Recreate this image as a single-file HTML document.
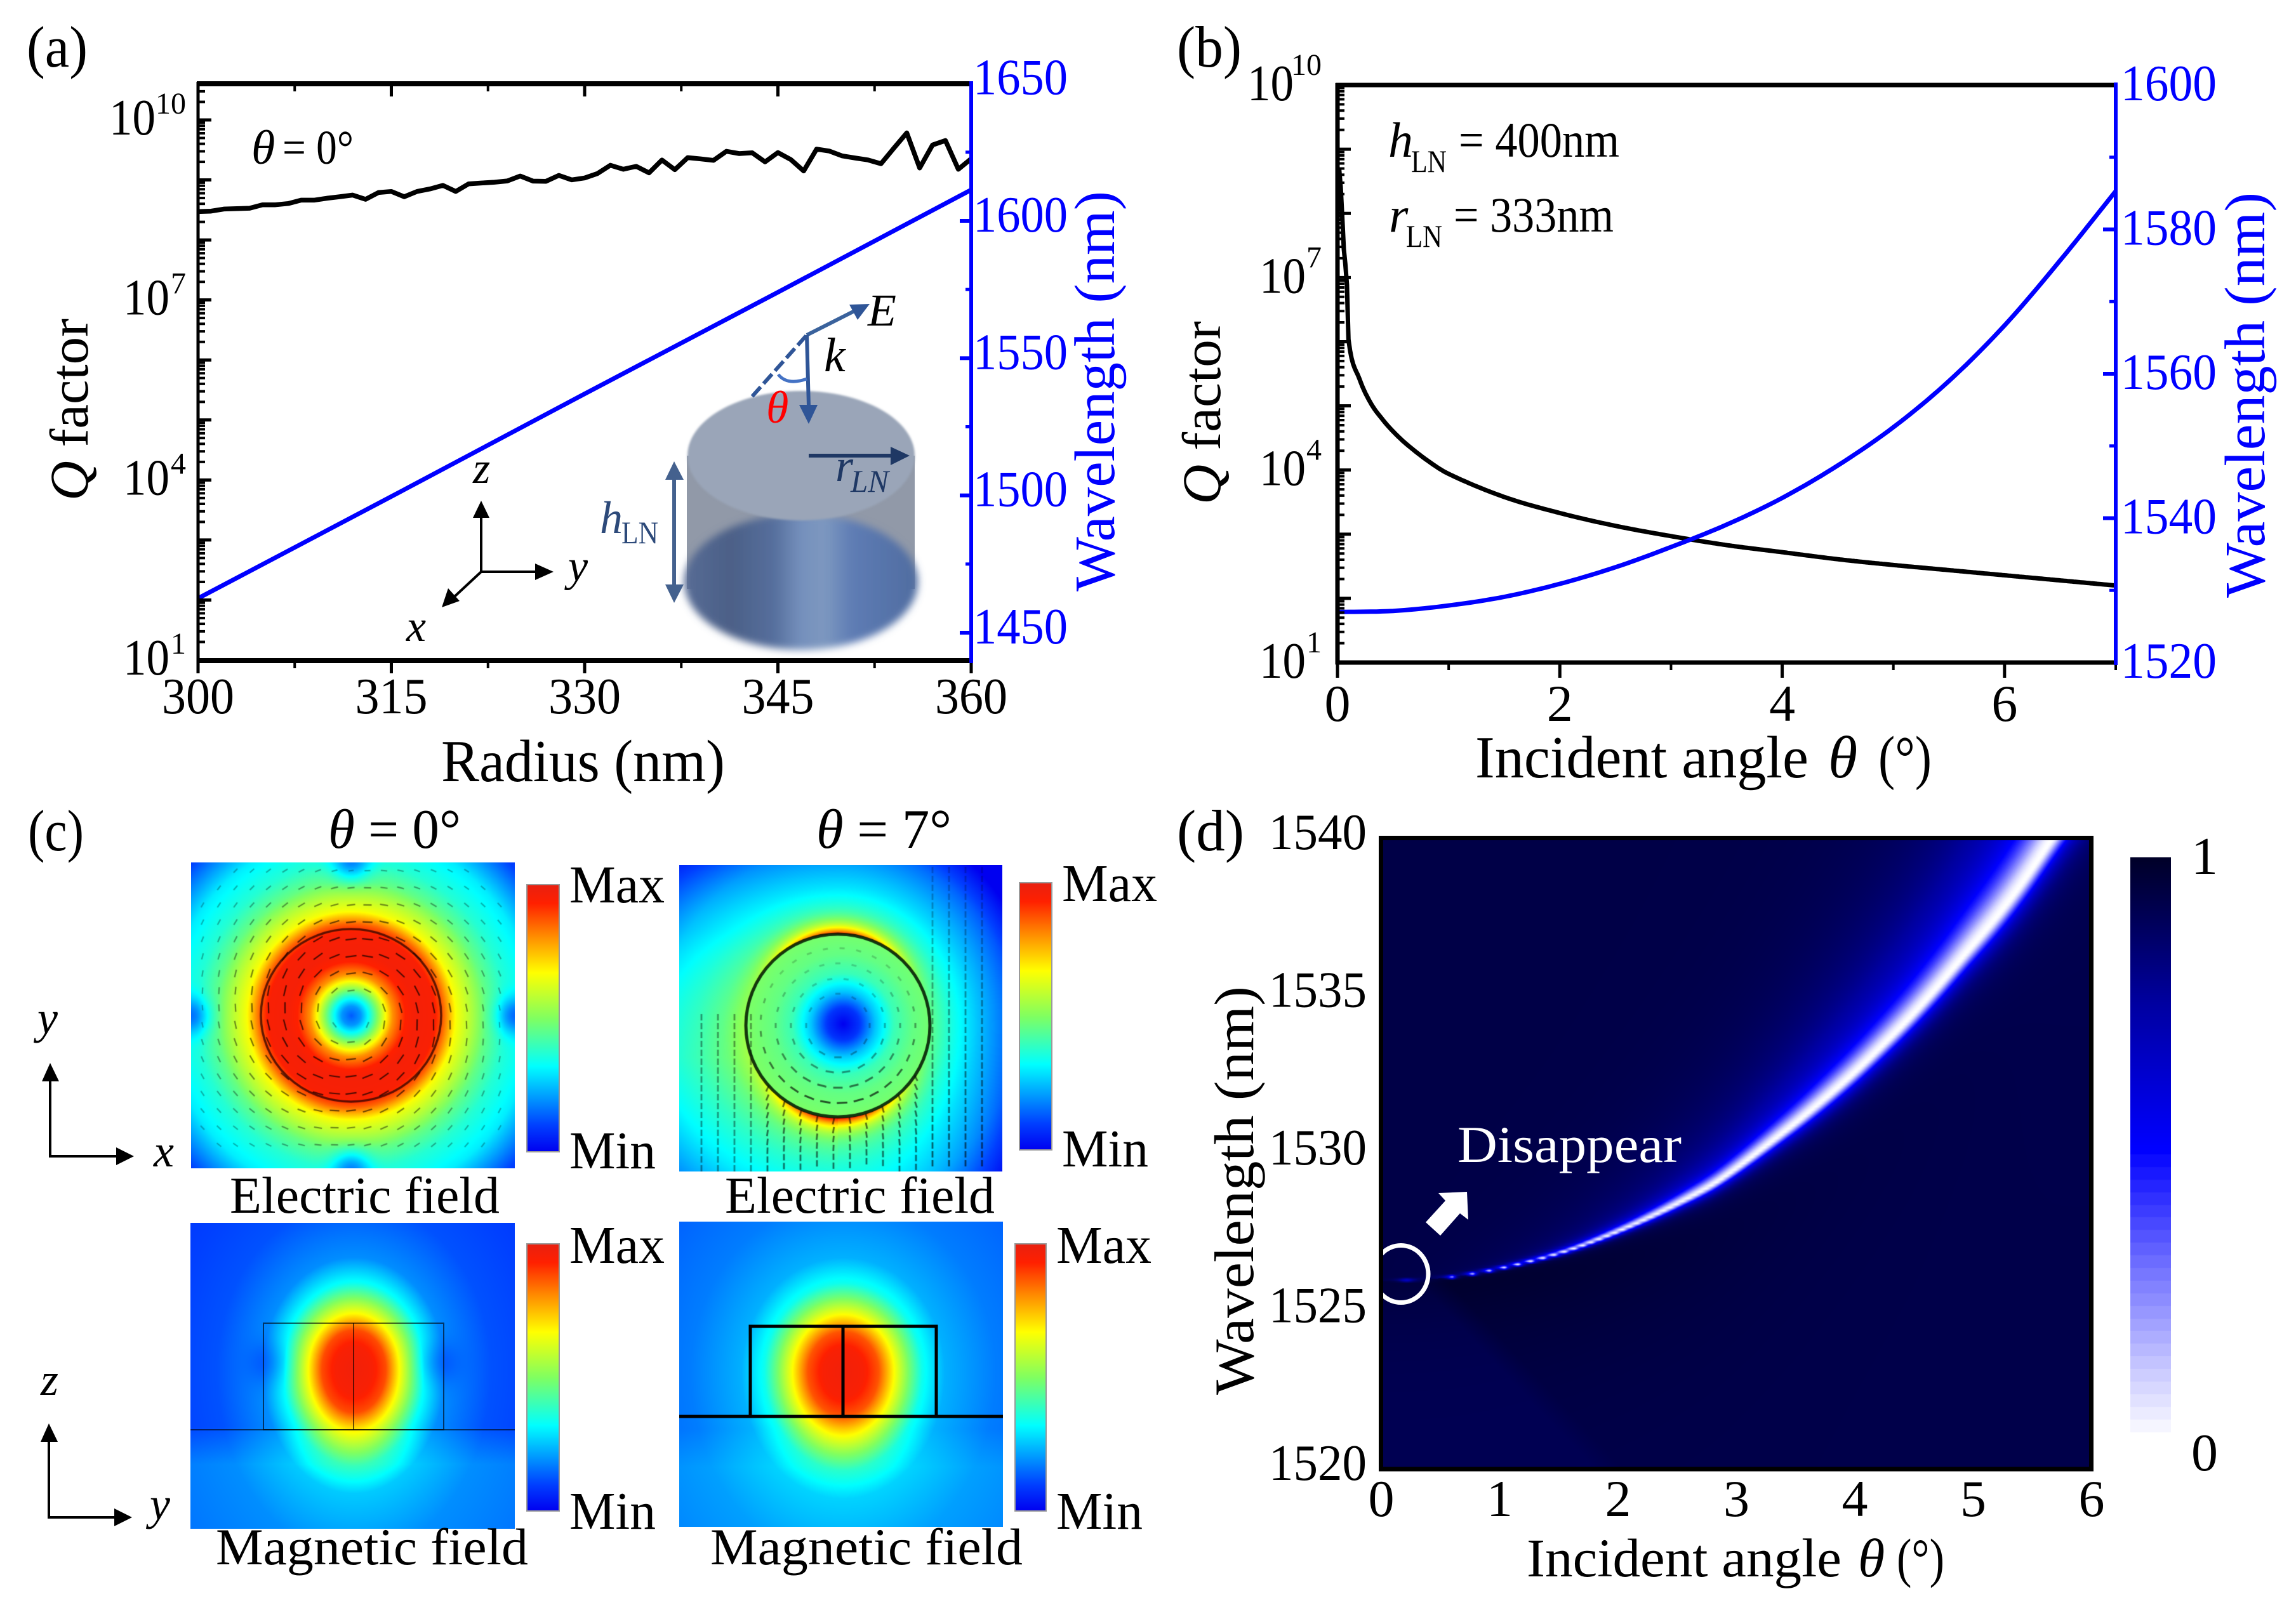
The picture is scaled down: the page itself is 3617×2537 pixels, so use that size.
<!DOCTYPE html>
<html lang="en">
<head>
<meta charset="utf-8">
<title>Q factor and field figure</title>
<style>
html,body{margin:0;padding:0;background:#fff;}
#stage{position:relative;width:3617px;height:2537px;overflow:hidden;background:#fff;}
canvas{position:absolute;display:block;}
svg#fig{position:absolute;left:0;top:0;font-family:"Liberation Serif",serif;}
</style>
</head>
<body>
<div id="stage">
<canvas id="cE0" width="510" height="482" style="left:301px;top:1359px"></canvas>
<canvas id="cE7" width="509" height="483" style="left:1070px;top:1363px"></canvas>
<canvas id="cH0" width="511" height="482" style="left:300px;top:1927px"></canvas>
<canvas id="cH7" width="510" height="481" style="left:1070px;top:1925px"></canvas>
<canvas id="cD" width="1118" height="994" style="left:2176px;top:1321px"></canvas>
<canvas id="cDbar" width="64" height="915" style="left:3356px;top:1351px"></canvas>

<svg id="fig" width="3617" height="2537" viewBox="0 0 3617 2537" xmlns="http://www.w3.org/2000/svg">
<defs>
<linearGradient id="jetV" x1="0" y1="1" x2="0" y2="0">
<stop offset="0" stop-color="#0000f0"/><stop offset=".1" stop-color="#0040ff"/><stop offset=".32" stop-color="#00ffff"/><stop offset=".5" stop-color="#80ff60"/><stop offset=".67" stop-color="#ffff00"/><stop offset=".82" stop-color="#ff8000"/><stop offset=".93" stop-color="#ff2000"/><stop offset="1" stop-color="#e82010"/>
</linearGradient>
<linearGradient id="cylBase" x1="0" y1="0" x2="1" y2="0">
<stop offset="0" stop-color="#566b95"/><stop offset=".2" stop-color="#4c6087"/><stop offset=".38" stop-color="#556e9c"/><stop offset=".5" stop-color="#7590bc"/><stop offset=".6" stop-color="#7d98c0"/><stop offset=".72" stop-color="#5e7cb4"/><stop offset="1" stop-color="#4f6ca0"/>
</linearGradient>
<filter id="blurBig" x="-10%" y="-10%" width="120%" height="120%"><feGaussianBlur stdDeviation="6"/></filter>
<filter id="blurSmall" x="-5%" y="-5%" width="110%" height="110%"><feGaussianBlur stdDeviation="1.5"/></filter>
</defs>

<!-- panel a labels -->
<g>
<text x="42" y="105" font-size="92" textLength="96" lengthAdjust="spacingAndGlyphs">(a)</text>
<g id="axA"></g>
<text x="695" y="1231" font-size="94" textLength="447" lengthAdjust="spacingAndGlyphs">Radius (nm)</text>
<text transform="translate(138,789) rotate(-90)" font-size="86" textLength="287" lengthAdjust="spacingAndGlyphs"><tspan font-style="italic">Q</tspan> factor</text>
<text transform="translate(1755,932) rotate(-90)" font-size="90" fill="#0000ff" textLength="631" lengthAdjust="spacingAndGlyphs">Wavelength (nm)</text>
<text x="396" y="258" font-size="76" font-style="italic">θ</text>
<text x="445" y="258" font-size="76" textLength="112" lengthAdjust="spacingAndGlyphs">= 0°</text>

<g>
<rect x="1082" y="718" width="359" height="210" fill="#9199a8"/>
<ellipse cx="1262" cy="917" rx="184" ry="107" fill="url(#cylBase)" filter="url(#blurBig)"/>
<ellipse cx="1262" cy="718" rx="179" ry="102" fill="#9aa5b8" filter="url(#blurSmall)"/>
<line x1="1271" y1="528" x2="1350" y2="488" stroke="#3a629c" stroke-width="6"/>
<polygon points="1370,479 1338,480 1351,504" fill="#2f5597"/>
<line x1="1271" y1="528" x2="1274" y2="640" stroke="#2f5597" stroke-width="6"/>
<polygon points="1259,638 1288,638 1274,668" fill="#2f5597"/>
<line x1="1270" y1="529" x2="1182" y2="628" stroke="#2f5597" stroke-width="6" stroke-dasharray="20 7"/>
<path d="M1226,590 Q1240,608 1271,597" fill="none" stroke="#4472c4" stroke-width="5"/>
<text x="1207" y="666" font-size="72" font-style="italic" fill="#ff0000">θ</text>
<text x="1367" y="513" font-size="72" font-style="italic" textLength="45" lengthAdjust="spacingAndGlyphs">E</text>
<text x="1298" y="585" font-size="76" font-style="italic">k</text>
<line x1="1274" y1="718" x2="1405" y2="718" stroke="#1f3864" stroke-width="6"/>
<polygon points="1403,704 1403,733 1433,718" fill="#1f3864"/>
<text x="1316" y="758" font-size="72" font-style="italic" fill="#1f3864">r</text>
<text x="1340" y="775" font-size="50" font-style="italic" fill="#1f3864" textLength="60" lengthAdjust="spacingAndGlyphs">LN</text>
<line x1="1062" y1="750" x2="1062" y2="925" stroke="#44618e" stroke-width="6"/>
<polygon points="1048,756 1077,756 1062,727" fill="#44618e"/>
<polygon points="1048,921 1077,921 1062,950" fill="#44618e"/>
<text x="945" y="840" font-size="72" font-style="italic" fill="#2d4a7a">h</text>
<text x="979" y="856" font-size="50" fill="#2d4a7a" textLength="58" lengthAdjust="spacingAndGlyphs">LN</text>
</g>
<g>
<line x1="758" y1="901" x2="758" y2="815" stroke="#000" stroke-width="4"/>
<polygon points="745,816 771,816 758,789" fill="#000"/>
<line x1="758" y1="901" x2="845" y2="901" stroke="#000" stroke-width="4"/>
<polygon points="843,888 843,914 872,901" fill="#000"/>
<line x1="758" y1="901" x2="715" y2="941" stroke="#000" stroke-width="4"/>
<polygon points="706,927 724,947 696,957" fill="#000"/>
<text x="745" y="761" font-size="70" font-style="italic">z</text>
<text x="895" y="915" font-size="70" font-style="italic">y</text>
<text x="640" y="1010" font-size="70" font-style="italic">x</text>
</g>
</g>

<!-- panel b labels -->
<g>
<text x="1854" y="105" font-size="92" textLength="102" lengthAdjust="spacingAndGlyphs">(b)</text>
<g id="axB"></g>
<text x="2324" y="1225" font-size="94" textLength="525" lengthAdjust="spacingAndGlyphs">Incident angle</text>
<text x="2880" y="1225" font-size="94" font-style="italic">θ</text>
<text x="2959" y="1225" font-size="94" textLength="84" lengthAdjust="spacingAndGlyphs">(°)</text>
<text transform="translate(1922,795) rotate(-90)" font-size="86" textLength="289" lengthAdjust="spacingAndGlyphs"><tspan font-style="italic">Q</tspan> factor</text>
<text transform="translate(3567,942) rotate(-90)" font-size="90" fill="#0000ff" textLength="639" lengthAdjust="spacingAndGlyphs">Wavelength (nm)</text>
<text x="2187" y="247" font-size="78" font-style="italic">h</text>
<text x="2223" y="271" font-size="50" textLength="56" lengthAdjust="spacingAndGlyphs">LN</text>
<text x="2298" y="247" font-size="78" textLength="253" lengthAdjust="spacingAndGlyphs">= 400nm</text>
<text x="2188" y="365" font-size="78" font-style="italic">r</text>
<text x="2215" y="389" font-size="50" textLength="57" lengthAdjust="spacingAndGlyphs">LN</text>
<text x="2290" y="365" font-size="78" textLength="252" lengthAdjust="spacingAndGlyphs">= 333nm</text>
</g>

<!-- panel c labels -->
<g>
<text x="44" y="1340" font-size="92" textLength="88" lengthAdjust="spacingAndGlyphs">(c)</text>
<text x="517" y="1336" font-size="88" textLength="209" lengthAdjust="spacingAndGlyphs"><tspan font-style="italic">θ</tspan> = 0°</text>
<text x="1286" y="1336" font-size="88" textLength="213" lengthAdjust="spacingAndGlyphs"><tspan font-style="italic">θ</tspan> = 7°</text>
<rect x="830" y="1394" width="51" height="421" fill="url(#jetV)" stroke="#999" stroke-width="2"/>
<rect x="1606" y="1391" width="51" height="421" fill="url(#jetV)" stroke="#999" stroke-width="2"/>
<rect x="830" y="1960" width="51" height="421" fill="url(#jetV)" stroke="#999" stroke-width="2"/>
<rect x="1599" y="1960" width="49" height="421" fill="url(#jetV)" stroke="#999" stroke-width="2"/>
<text x="897" y="1422" font-size="84" textLength="150" lengthAdjust="spacingAndGlyphs">Max</text>
<text x="897" y="1841" font-size="84" textLength="136" lengthAdjust="spacingAndGlyphs">Min</text>
<text x="1673" y="1420" font-size="84" textLength="150" lengthAdjust="spacingAndGlyphs">Max</text>
<text x="1673" y="1838" font-size="84" textLength="136" lengthAdjust="spacingAndGlyphs">Min</text>
<text x="897" y="1990" font-size="84" textLength="150" lengthAdjust="spacingAndGlyphs">Max</text>
<text x="897" y="2409" font-size="84" textLength="136" lengthAdjust="spacingAndGlyphs">Min</text>
<text x="1664" y="1990" font-size="84" textLength="150" lengthAdjust="spacingAndGlyphs">Max</text>
<text x="1664" y="2409" font-size="84" textLength="136" lengthAdjust="spacingAndGlyphs">Min</text>
<text x="362" y="1911" font-size="82" textLength="425" lengthAdjust="spacingAndGlyphs">Electric field</text>
<text x="1142" y="1911" font-size="82" textLength="425" lengthAdjust="spacingAndGlyphs">Electric field</text>
<text x="340" y="2465" font-size="82" textLength="492" lengthAdjust="spacingAndGlyphs">Magnetic field</text>
<text x="1119" y="2465" font-size="82" textLength="492" lengthAdjust="spacingAndGlyphs">Magnetic field</text>

<g fill="none" stroke="#000" stroke-opacity=".6" stroke-width="2">
<rect x="415" y="2085" width="284" height="168"/>
<line x1="557" y1="2085" x2="557" y2="2253"/>
<line x1="300" y1="2253" x2="811" y2="2253"/>
</g>
<g fill="none" stroke="#000" stroke-width="5">
<rect x="1182" y="2090" width="293" height="142"/>
<line x1="1328" y1="2090" x2="1328" y2="2232"/>
<line x1="1070" y1="2232" x2="1580" y2="2232"/>
</g>
<g>
<line x1="79" y1="1822" x2="79" y2="1700" stroke="#000" stroke-width="4"/>
<polygon points="66,1704 93,1704 79,1675" fill="#000"/>
<line x1="77" y1="1822" x2="185" y2="1822" stroke="#000" stroke-width="4"/>
<polygon points="183,1808 183,1836 211,1822" fill="#000"/>
<text x="59" y="1628" font-size="72" font-style="italic">y</text>
<text x="242" y="1838" font-size="72" font-style="italic">x</text>
</g>
<g>
<line x1="77" y1="2391" x2="77" y2="2268" stroke="#000" stroke-width="4"/>
<polygon points="64,2272 91,2272 77,2243" fill="#000"/>
<line x1="75" y1="2391" x2="182" y2="2391" stroke="#000" stroke-width="4"/>
<polygon points="180,2377 180,2405 208,2391" fill="#000"/>
<text x="64" y="2198" font-size="72" font-style="italic">z</text>
<text x="236" y="2394" font-size="72" font-style="italic">y</text>
</g>
</g>

<!-- panel d labels -->
<g>
<text x="1854" y="1340" font-size="92" textLength="106" lengthAdjust="spacingAndGlyphs">(d)</text>
<g id="axD"></g>
<text transform="translate(1974,2198) rotate(-90)" font-size="88" textLength="644" lengthAdjust="spacingAndGlyphs">Wavelength (nm)</text>
<text x="2405" y="2484" font-size="86" textLength="496" lengthAdjust="spacingAndGlyphs">Incident angle</text>
<text x="2927" y="2484" font-size="86" font-style="italic">θ</text>
<text x="2988" y="2484" font-size="86" textLength="75" lengthAdjust="spacingAndGlyphs">(°)</text>
<text x="2296" y="1831" font-size="82" fill="#fff" textLength="353" lengthAdjust="spacingAndGlyphs">Disappear</text>
<ellipse cx="2207" cy="2007.5" rx="43" ry="45" fill="none" stroke="#fff" stroke-width="7"/>
<polygon points="2266,1880 2311,1878 2313,1922 2300,1912 2269,1947 2246,1926 2277,1892" fill="#fff"/>
<rect x="2175.5" y="1320.5" width="1119" height="994.5" fill="none" stroke="#000" stroke-width="7"/>
<text x="3452" y="1377" font-size="84">1</text>
<text x="3452" y="2317" font-size="84">0</text>
</g>
</svg>
</div>

<script>
/* ---------- Panel (a) data ---------- */
const aRadius = [300,301,302,303,304,305,306,307,308,309,310,311,312,313,314,315,316,317,318,319,320,321,322,323,324,325,326,327,328,329,330,331,332,333,334,335,336,337,338,339,340,341,342,343,344,345,346,347,348,349,350,351,352,353,354,355,356,357,358,359,360];
const aLogQ = [8.473,8.480,8.515,8.522,8.529,8.586,8.586,8.607,8.663,8.663,8.695,8.720,8.748,8.677,8.790,8.808,8.720,8.808,8.850,8.910,8.808,8.935,8.949,8.963,8.984,9.065,8.981,8.977,9.076,9.002,9.033,9.107,9.245,9.178,9.227,9.118,9.333,9.171,9.372,9.351,9.326,9.478,9.439,9.453,9.301,9.456,9.340,9.150,9.513,9.481,9.400,9.365,9.333,9.270,9.530,9.784,9.199,9.583,9.657,9.178,9.354];
const aWaveRadius = [300,315,330,345,360];
const aWavelength = [1462.5,1499.6,1537,1574,1611.3];
const aXTicks = [300,315,330,345,360];
const aXMinor = [307.5,322.5,337.5,352.5];
const aRightTicks = [1650,1600,1550,1500,1450];
const aRightMinor = [1625,1575,1525,1475];
const aDecades = [1,2,3,4,5,6,7,8,9,10];
const aDecadeLabels = [1,4,7,10];

/* ---------- Panel (b) data ---------- */
const bQAngle = [0.015,0.035,0.055,0.084,0.1,0.2,0.3,0.4,0.49,0.61,0.8,1,1.5,2,2.5,3,3.5,4,4.5,5,5.5,6,6.5,7];
const bLogQ = [8.7,8.25,7.49,6.92,6.01,5.41,5.04,4.80,4.62,4.42,4.16,3.94,3.58,3.33,3.13,2.97,2.83,2.72,2.61,2.52,2.44,2.36,2.28,2.20];
const bWaveAngle = [0,0.5,1,1.5,2,2.5,3,3.5,4,4.5,5,5.5,6,6.5,7];
const bWavelength = [1527,1527.15,1527.9,1529.1,1530.9,1533.2,1536,1539.1,1542.8,1547.3,1552.6,1559,1566.7,1575.7,1585.3];
const bXTicks = [0,2,4,6];
const bXMinor = [1,3,5,7];
const bRightTicks = [1600,1580,1560,1540,1520];
const bRightMinor = [1590,1570,1550,1530];
const bDecades = [1,2,3,4,5,6,7,8,9,10];
const bDecadeLabels = [1,4,7,10];

/* ---------- Panel (d) data ---------- */
const dRidgeAngle = [0,0.155,0.525,0.72,0.885,1.13,1.42,1.7,2.12,2.52,2.87,3.44,3.74,4,4.24,4.48,4.71,4.94,5.21,5.44,5.673,6];
const dRidgeWavelength = [1525.97,1525.99,1526.07,1526.17,1526.28,1526.48,1526.76,1527.1,1527.74,1528.46,1529.2,1530.8,1531.72,1532.58,1533.45,1534.37,1535.33,1536.35,1537.55,1538.7,1540,1541.8];
const dRidgeWidth = [0.01,0.012,0.015,0.022,0.03,0.04,0.06,0.09,0.14,0.21,0.28,0.4,0.47,0.52,0.56,0.6,0.65,0.7,0.78,0.85,0.92,1];
const dRidgeDepth = [0.05,0.25,0.72,0.85,0.9,0.95,1,1,1,1,1,1,1,1,1,1,1,1,1,1,1,1];
const dXTicks = [0,1,2,3,4,5,6];
const dYTicks = [1540,1535,1530,1525,1520];

/* ---------- Field-map radial profiles ---------- */
const e0Radius = [0,15,30,45,55,65,85,100,130,145,165,190,212,243,288,346,400];
const e0Level = [0.13,0.2,0.36,0.55,0.68,0.8,0.93,0.96,0.95,0.85,0.66,0.56,0.46,0.37,0.3,0.1,0.05];
const e7InnerRadius = [0,25,50,80,110,145];
const e7InnerLevel = [0.0,0.08,0.25,0.4,0.46,0.49];
const e7OuterRadius = [145,180,220,280,350,420];
const e7OuterLevel = [0.5,0.42,0.36,0.29,0.17,0.1];
const hRho = [0,0.4,0.7,1,1.3,1.55,2,3,5];
const h0Level = [0.97,0.95,0.88,0.67,0.48,0.33,0.19,0.12,0.08];
const h7Level = [0.97,0.95,0.87,0.67,0.48,0.34,0.23,0.17,0.12];

/* ---------- helpers ---------- */
const SVGNS = 'http://www.w3.org/2000/svg';
const linear = (d0,d1,r0,r1) => v => r0 + (v-d0)*(r1-r0)/(d1-d0);
function pw(xs,ys,x){
  if(x<=xs[0]) return ys[0];
  for(let i=1;i<xs.length;i++){
    if(x<=xs[i]) return ys[i-1]+(ys[i]-ys[i-1])*(x-xs[i-1])/(xs[i]-xs[i-1]);
  }
  return ys[ys.length-1];
}
function catmull(xs,ys,x){
  const n=xs.length;
  let i=0;
  while(i<n-2 && x>xs[i+1]) i++;
  const t=(x-xs[i])/(xs[i+1]-xs[i]);
  const m0=i>0?(ys[i+1]-ys[i-1])/(xs[i+1]-xs[i-1]):(ys[i+1]-ys[i])/(xs[i+1]-xs[i]);
  const m1=i<n-2?(ys[i+2]-ys[i])/(xs[i+2]-xs[i]):(ys[i+1]-ys[i])/(xs[i+1]-xs[i]);
  const h=xs[i+1]-xs[i];
  const t2=t*t,t3=t2*t;
  return (2*t3-3*t2+1)*ys[i]+(t3-2*t2+t)*h*m0+(-2*t3+3*t2)*ys[i+1]+(t3-t2)*h*m1;
}
function addLine(g,x1,y1,x2,y2,color,w,name){
  const el=document.createElementNS(SVGNS,'line');
  
  
  el.setAttribute('x1',x1);el.setAttribute('y1',y1);el.setAttribute('x2',x2);el.setAttribute('y2',y2);
  el.setAttribute('stroke',color);el.setAttribute('stroke-width',w);
  g.appendChild(el);
  return el;
}
function addText(g,str,x,y,size,anchor,color,len,name){
  const el=document.createElementNS(SVGNS,'text');
  
  
  el.setAttribute('x',x);el.setAttribute('y',y);el.setAttribute('font-size',size);
  el.setAttribute('text-anchor',anchor);el.setAttribute('fill',color);
  if(len){el.setAttribute('textLength',len);el.setAttribute('lengthAdjust','spacingAndGlyphs');}
  el.textContent=str;
  g.appendChild(el);
  return el;
}
function addSeries(g,xs,ys,sx,sy,color,w,name){
  const el=document.createElementNS(SVGNS,'path');
  
  
  let d='';
  xs.forEach((x,i)=>{d+=(i?'L':'M')+sx(x).toFixed(1)+' '+sy(ys[i]).toFixed(1)+' ';});
  el.setAttribute('d',d);
  el.setAttribute('fill','none');el.setAttribute('stroke',color);el.setAttribute('stroke-width',w);
  el.setAttribute('stroke-linejoin','round');
  g.appendChild(el);
  return el;
}
function dense(xs,ys,x0,x1,n){
  const X=[],Y=[];
  for(let i=0;i<=n;i++){const x=x0+(x1-x0)*i/n;X.push(x);Y.push(catmull(xs,ys,x));}
  return [X,Y];
}
function logTicks(g,sy,decades,xLeft,yMinClip,color){
  decades.forEach(d=>{
    addLine(g,xLeft,sy(d),xLeft+21,sy(d),color,5,'left-axis-major-tick');
    for(let m=2;m<10;m++){
      const y=sy(d+Math.log10(m));
      if(y>yMinClip) addLine(g,xLeft,y,xLeft+11,y,color,4,'left-axis-minor-tick');
    }
  });
}

/* ---------- Panel (a) ---------- */
(function(){
  const g=document.getElementById('axA');
  const L=312,R=1530,T=132,B=1041;
  const sx=linear(300,360,L,R);
  const sQ=linear(1,10,1040,189);
  const sW=linear(1450,1600,997,348);
  addSeries(g,aRadius,aLogQ,sx,sQ,'#000',7.5,'q-factor-curve');
  addSeries(g,aWaveRadius,aWavelength,sx,sW,'#0000ff',7,'wavelength-line');
  aXTicks.forEach(t=>{
    addLine(g,sx(t),T,sx(t),T+20,'#000',5,'top-axis-major-tick');
    addLine(g,sx(t),B,sx(t),B+20,'#000',5,'x-axis-major-tick');
    addText(g,String(t),sx(t),1124,80,'middle','#000',114,'x-tick-label');
  });
  aXMinor.forEach(t=>{
    addLine(g,sx(t),T,sx(t),T+12,'#000',4,'top-axis-minor-tick');
    addLine(g,sx(t),B,sx(t),B+12,'#000',4,'x-axis-minor-tick');
  });
  logTicks(g,sQ,aDecades,L,T,'#000');
  aDecadeLabels.forEach(d=>{
    const y=sQ(d),e=String(d);
    addText(g,'10',293-(e.length>1?48:26),y+23,80,'end','#000',73,'y-tick-label-base');
    addText(g,e,293,y-10,48,'end','#000',null,'y-tick-label-exponent');
  });
  aRightTicks.forEach(t=>{
    addLine(g,R-18,sW(t),R,sW(t),'#0000ff',6,'right-axis-major-tick');
    addText(g,String(t),1533,sW(t)+17,80,'start','#0000ff',149,'right-tick-label');
  });
  aRightMinor.forEach(t=>{
    addLine(g,R-9,sW(t),R,sW(t),'#0000ff',5,'right-axis-minor-tick');
  });
  addLine(g,L,T-3,L,B+3,'#000',5,'left-axis-line');
  addLine(g,L-2,T,R,T,'#000',8,'top-axis-line');
  addLine(g,L-2,B,R,B,'#000',8,'bottom-axis-line');
  addLine(g,R,T-4,R,B+4,'#0000ff',6,'right-axis-line');
})();

/* ---------- Panel (b) ---------- */
(function(){
  const g=document.getElementById('axB');
  const L=2107,R=3333,T=134,B=1044;
  const sx=linear(0,7,L,R);
  const sQ=linear(1,10,1044,134);
  const sW=linear(1520,1600,1044,134);
  const dq=dense(bQAngle,bLogQ,0.015,7,500);
  addSeries(g,dq[0],dq[1],sx,sQ,'#000',7,'q-factor-curve');
  const dw=dense(bWaveAngle,bWavelength,0,7,140);
  addSeries(g,dw[0],dw[1],sx,sW,'#0000ff',7,'wavelength-curve');
  bXTicks.forEach(t=>{
    addLine(g,sx(t),B,sx(t),B+24,'#000',5,'x-axis-major-tick');
    addText(g,String(t),sx(t),1136,82,'middle','#000',null,'x-tick-label');
  });
  bXMinor.forEach(t=>{
    addLine(g,sx(t),B,sx(t),B+12,'#000',4,'x-axis-minor-tick');
  });
  logTicks(g,sQ,bDecades,L,T,'#000');
  bDecadeLabels.forEach(d=>{
    const y=sQ(d),e=String(d);
    addText(g,'10',2082-(e.length>1?44:25),y+24,80,'end','#000',73,'y-tick-label-base');
    addText(g,e,2082,y-16,48,'end','#000',null,'y-tick-label-exponent');
  });
  bRightTicks.forEach(t=>{
    addLine(g,R-20,sW(t),R,sW(t),'#0000ff',6,'right-axis-major-tick');
    addText(g,String(t),3341,sW(t)+24,80,'start','#0000ff',151,'right-tick-label');
  });
  bRightMinor.forEach(t=>{
    addLine(g,R-10,sW(t),R,sW(t),'#0000ff',5,'right-axis-minor-tick');
  });
  addLine(g,L,T-3,L,B+3,'#000',7,'left-axis-line');
  addLine(g,L-3,T,R,T,'#000',7,'top-axis-line');
  addLine(g,L-3,B,R,B,'#000',7,'bottom-axis-line');
  addLine(g,R,T-4,R,B+4,'#0000ff',6,'right-axis-line');
})();

/* ---------- Panel (d) ---------- */
const dStopsT=[0,0.12,0.3,0.5,0.75,0.9,0.95,1];
const dStopsB=[255,255,255,255,160,85,62,40];
const dStopsRG=[255,200,110,0,0,0,0,0];
function dColor(T){return [pw(dStopsT,dStopsRG,T),pw(dStopsT,dStopsRG,T),pw(dStopsT,dStopsB,T)];}
(function(){
  const g=document.getElementById('axD');
  const L=2176,R=3295,T=1321,B=2315;
  const sx=linear(0,6,L,R);
  const sy=linear(1520,1540,B,T);
  dXTicks.forEach(t=>{
    addText(g,String(t),sx(t),2389,82,'middle','#000',null,'x-tick-label');
  });
  dYTicks.forEach(t=>{
    addText(g,String(t),2153,sy(t)+17,80,'end','#000',154,'y-tick-label');
  });

  const c=document.getElementById('cD'),ctx=c.getContext('2d');
  const W=c.width,H=c.height,img=ctx.createImageData(W,H),px=img.data;
  const rowStep=0.1;
  const col=[];
  for(let x=0;x<W;x++){
    const th=x/W*6;
    col.push({th,l0:catmull(dRidgeAngle,dRidgeWavelength,th),w:pw(dRidgeAngle,dRidgeWidth,th),a:pw(dRidgeAngle,dRidgeDepth,th)});
  }
  const lor=(k,l)=>{
    const d=l-k.l0;
    const wE=d>0?k.w*1.1:k.w*0.7;
    return k.a/(1+(d/wE)*(d/wE));
  };
  for(let y=0;y<H;y++){
    const lam=1540-y/H*20;
    const r0=Math.floor(lam/rowStep)*rowStep;
    const f=(lam-r0)/rowStep;
    for(let x=0;x<W;x++){
      const k=col[x],th=k.th;
      const Lz=lor(k,r0)*(1-f)+lor(k,r0+rowStep)*f;
      const d=lam-k.l0;
      let bg;
      if(d>0){
        bg=0.93-0.6*Math.pow(th/6,1.5)*Math.exp(-d/(0.6+th*0.5));
      }else{
        const edge=0.43+(1525.5-lam)*0.25;
        const s=Math.min(1,Math.max(0,(th-edge)/0.25));
        const left=0.905+0.05*Math.exp(d/1.5);
        const right=0.925+0.07*Math.exp(d/2.5);
        bg=left*(1-s)+right*s;
      }
      const Tv=bg*(1-Lz);
      const rgb=dColor(Tv),i=(y*W+x)*4;
      px[i]=rgb[0];px[i+1]=rgb[1];px[i+2]=rgb[2];px[i+3]=255;
    }
  }
  ctx.putImageData(img,0,0);

  const cb=document.getElementById('cDbar'),bx=cb.getContext('2d');
  for(let y=0;y<cb.height;y++){
    let Tv=1-y/cb.height;
    if(Tv<0.5) Tv=Math.round(Tv*46)/46;
    const rgb=dColor(Tv);
    bx.fillStyle='rgb('+Math.round(rgb[0])+','+Math.round(rgb[1])+','+Math.round(rgb[2])+')';
    bx.fillRect(0,y,cb.width,1);
  }
})();

/* ---------- Panel (c) field maps ---------- */
const jetX=[0,0.1,0.32,0.5,0.67,0.82,0.93,1];
const jetR=[0,0,0,128,255,255,255,232];
const jetG=[0,64,255,255,255,128,32,32];
const jetB=[240,255,255,96,0,0,0,16];
function paint(id,fn){
  const c=document.getElementById(id),ctx=c.getContext('2d');
  const W=c.width,H=c.height,img=ctx.createImageData(W,H),d=img.data;
  for(let y=0;y<H;y++)for(let x=0;x<W;x++){
    const v=Math.min(1,Math.max(0,fn(x,y))),i=(y*W+x)*4;
    d[i]=pw(jetX,jetR,v);d[i+1]=pw(jetX,jetG,v);d[i+2]=pw(jetX,jetB,v);d[i+3]=255;
  }
  ctx.putImageData(img,0,0);
  return ctx;
}
function dash(ctx,x,y,ang,len,w,alpha){
  ctx.strokeStyle='rgba(0,0,0,'+alpha+')';
  ctx.lineWidth=w;
  ctx.beginPath();
  ctx.moveTo(x-Math.cos(ang)*len/2,y-Math.sin(ang)*len/2);
  ctx.lineTo(x+Math.cos(ang)*len/2,y+Math.sin(ang)*len/2);
  ctx.stroke();
}
const gauss=(x,y,cx,cy,s)=>Math.exp(-((x-cx)*(x-cx)+(y-cy)*(y-cy))/(s*s));
(function(){
  const cx=252,cy=241;
  const fn=(x,y)=>{
    const r=Math.hypot(x-cx,y-cy);
    let v=pw(e0Radius,e0Level,r);
    v-=0.2*(gauss(x,y,cx,0,30)+gauss(x,y,cx,482,30)+gauss(x,y,0,cy,30)+gauss(x,y,510,cy,30));
    return v;
  };
  const ctx=paint('cE0',fn);
  for(let gy=-228;gy<=228;gy+=27){
    for(let gx=-234;gx<=234;gx+=26){
      const r=Math.hypot(gx,gy);
      if(r<30||r>300) continue;
      const x=cx+gx,y=cy+gy;
      const v=fn(x,y);
      const a=Math.atan2(gy,gx)+Math.PI/2-0.12;
      dash(ctx,x,y,a,5+v*13,2.2,0.1+v*0.6);
    }
  }
  ctx.strokeStyle='rgba(30,0,0,.7)';ctx.lineWidth=3.5;
  ctx.beginPath();ctx.ellipse(cx,cy,142,136,0,0,2*Math.PI);ctx.stroke();
})();
(function(){
  const cx=250,cy=253,R0=145;
  const fn=(x,y)=>{
    const r=Math.hypot(x-cx,y-cy);
    if(r<R0) return pw(e7InnerRadius,e7InnerLevel,Math.hypot(x-cx-8,y-cy+3));
    const sn=Math.abs(y-cy)/r;
    let v=pw(e7OuterRadius,e7OuterLevel,r);
    v+=0.46*Math.pow(sn,3.5)*Math.exp(-(r-R0)/15);
    if(x>cx) v-=0.14*Math.pow((x-cx)/250,2);
    if(y<cy) v-=0.1*Math.pow((cy-y)/250,2);
    if(x<cx) v+=0.05*Math.max(0,1-Math.abs(y-cy-50)/200);
    return v;
  };
  const ctx=paint('cE7',fn);
  for(let rad=50;rad<R0;rad+=24){
    const n=Math.round(2*Math.PI*rad/26);
    for(let i=0;i<n;i++){
      const a=i/n*2*Math.PI;
      const x=cx+rad*Math.cos(a),y=cy+rad*Math.sin(a);
      const bright=0.18+0.65*Math.max(0,(y-cy+80)/220)*(rad/R0);
      dash(ctx,x,y,a+Math.PI/2,8+Math.max(0,(y-cy))*0.07,3,Math.min(0.9,bright));
    }
  }
  for(let col=-215;col<=235;col+=26){
    if(Math.abs(col)<R0-8){
      for(let y=cy+Math.sqrt(R0*R0-col*col)+6;y<480;y+=14){
        const lean=Math.max(0,(60-(y-cy-R0)))*0.004*(col<0?1:-1);
        dash(ctx,cx+col,y,Math.PI/2+lean,10,2.8,0.55);
      }
    }else{
      const top=col>0?8:240;
      for(let y=top;y<480;y+=14){
        dash(ctx,cx+col,y,Math.PI/2,10,2.8,(col>0?0.2+0.4*y/480:0.4));
      }
    }
  }
  ctx.strokeStyle='rgba(0,20,0,.85)';ctx.lineWidth=5;
  ctx.beginPath();ctx.ellipse(cx,cy,R0,144,0,0,2*Math.PI);ctx.stroke();
})();
(function(){
  const cx=257,cy=230;
  paint('cH0',(x,y)=>{
    const dx=x-cx,dy=y-cy;
    const rho=Math.hypot(dx/72,dy/(dy>0?98:88));
    let v=pw(hRho,h0Level,rho);
    v-=0.07*(gauss(x,y,cx-128,cy-10,35)+gauss(x,y,cx+128,cy-10,35));
    if(dy>90) v+=0.07*Math.min(1,(dy-90)/60);
    return v;
  });
})();
(function(){
  const cx=258,cy=236;
  paint('cH7',(x,y)=>{
    const dx=x-cx,dy=y-cy;
    const rho=Math.hypot(dx/80,dy/(dy>0?100:90));
    let v=pw(hRho,h7Level,rho);
    if(dy>90) v+=0.04*Math.min(1,(dy-90)/60);
    return v;
  });
})();
</script>
</body>
</html>
